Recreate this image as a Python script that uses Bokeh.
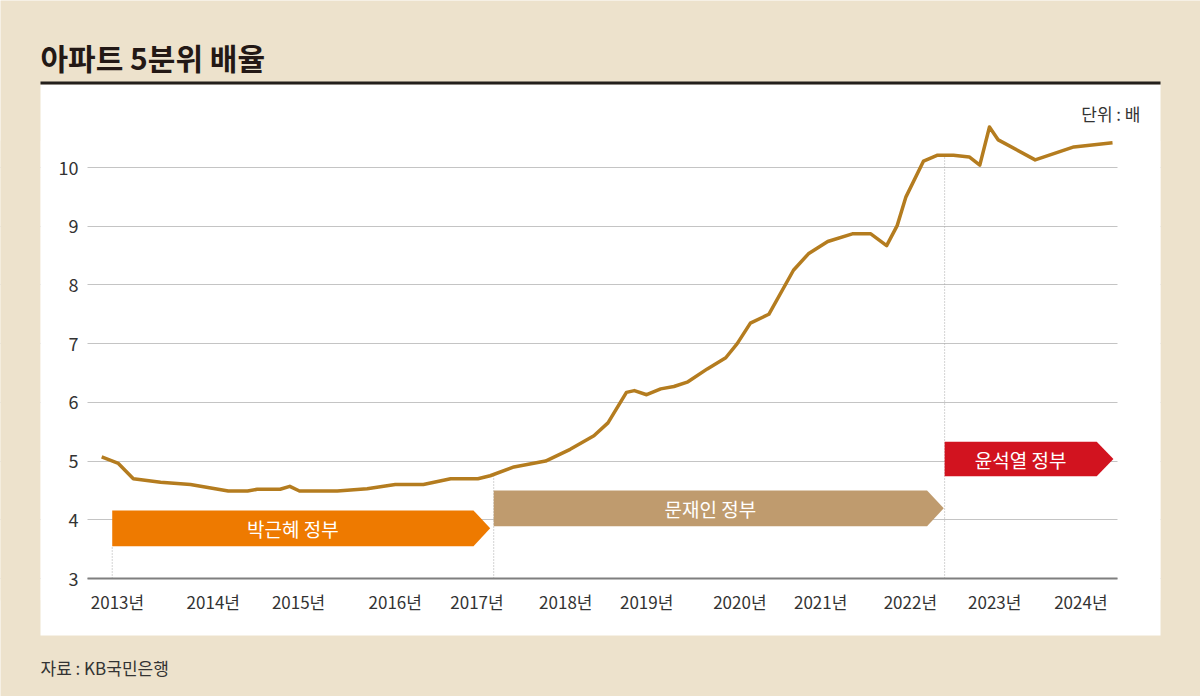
import numpy as np
from bokeh.plotting import figure
from bokeh.models import Range1d, FixedTicker, Label, BoxAnnotation
from bokeh.core.properties import value
from bokeh.embed import file_html
from bokeh.resources import INLINE

# ---------------- data ----------------
years = [2012.82, 2013.01, 2013.18, 2013.49, 2013.83, 2014.26, 2014.48, 2014.59, 2014.85, 2014.96,
         2015.07, 2015.50, 2015.84, 2016.16, 2016.48, 2016.79, 2017.10, 2017.24, 2017.51, 2017.87,
         2018.15, 2018.42, 2018.58, 2018.79, 2018.88, 2019.02, 2019.18, 2019.33, 2019.49, 2019.71,
         2019.92, 2020.05, 2020.20, 2020.41, 2020.69, 2020.86, 2021.08, 2021.36, 2021.57, 2021.75,
         2021.87, 2021.97, 2022.17, 2022.33, 2022.51, 2022.69, 2022.81, 2022.92, 2023.02, 2023.44,
         2023.88, 2024.32]
ratio = [5.07, 4.96, 4.70, 4.64, 4.60, 4.49, 4.49, 4.52, 4.52, 4.57,
         4.49, 4.49, 4.53, 4.60, 4.60, 4.70, 4.70, 4.75, 4.90, 5.00,
         5.20, 5.43, 5.65, 6.17, 6.20, 6.13, 6.23, 6.27, 6.35, 6.57,
         6.76, 7.00, 7.35, 7.50, 8.25, 8.53, 8.74, 8.87, 8.87, 8.67,
         9.01, 9.50, 10.11, 10.21, 10.21, 10.18, 10.04, 10.69, 10.47, 10.13,
         10.35, 10.42]

tick_years = [2013.00, 2014.09, 2015.06, 2016.16, 2017.09, 2018.10,
              2019.02, 2020.08, 2021.00, 2022.02, 2022.98, 2023.96]
tick_labels = ["2013년", "2014년", "2015년", "2016년", "2017년", "2018년",
               "2019년", "2020년", "2021년", "2022년", "2023년", "2024년"]
y_ticks = [3, 4, 5, 6, 7, 8, 9, 10]

era_names = ["박근혜 정부", "문재인 정부", "윤석열 정부"]
era_start = [2012.94, 2017.28, 2022.41]
era_end = [2017.24, 2022.40, 2024.33]

# ---------------- styling / layout ----------------
FONT = "Noto Sans CJK KR"
BEIGE = "#EDE2CC"
LINE_COLOR = "#B47C1F"
era_colors = ["#EE7A00", "#BF9B6E", "#D2131F"]
era_low = [3.55, 3.89, 4.74]
era_high = [4.16, 4.50, 5.33]
TIP = 0.19


# picture pixel -> data coordinate helpers (used for layout / annotations only)
def X(px):
    return 2013 + (px - 117) / 87.9


def Y(py):
    return 3 + (578 - py) / 58.714


p = figure(width=1200, height=696, output_backend="svg", toolbar_location=None, title=None,
           x_range=Range1d(X(0), X(1200)), y_range=Range1d(Y(696), Y(0)),
           min_border_left=0, min_border_right=0, min_border_top=0, min_border_bottom=0,
           background_fill_color=BEIGE, border_fill_color=BEIGE, outline_line_color=None)

# white panel and black rule (behind grid)
p.add_layout(BoxAnnotation(left=X(40), right=X(1160), top=Y(84), bottom=Y(635),
                           fill_color="white", fill_alpha=1.0, line_color=None, level="image"))
p.add_layout(BoxAnnotation(left=X(40), right=X(1160), top=Y(81), bottom=Y(84),
                           fill_color="#231F1C", fill_alpha=1.0, line_color=None, level="image"))

# axes drawn at fixed locations inside the canvas
p.xaxis.fixed_location = 3
p.xaxis.bounds = (X(87), X(1117))
p.xaxis.ticker = FixedTicker(ticks=tick_years)
p.xaxis.major_label_overrides = dict(zip(tick_years, tick_labels))
p.xaxis.axis_line_color = "#7F7F7F"
p.xaxis.axis_line_width = 2
p.xaxis.major_tick_line_color = None
p.xaxis.minor_tick_line_color = None
p.xaxis.major_label_standoff = 4
p.yaxis.fixed_location = X(87)
p.yaxis.bounds = (3, 10)
p.yaxis.ticker = FixedTicker(ticks=y_ticks)
p.yaxis.axis_line_color = None
p.yaxis.major_tick_line_color = None
p.yaxis.minor_tick_line_color = None
p.yaxis.major_label_standoff = 3
for ax in (p.xaxis, p.yaxis):
    ax.major_label_text_font = FONT
    ax.major_label_text_color = "#333333"
p.xaxis.major_label_text_font_size = "17px"
p.yaxis.major_label_text_font_size = "18px"
p.xgrid.grid_line_color = None
p.ygrid.grid_line_color = "#C4C4C4"
p.ygrid.grid_line_width = 1

# trim grid lines to the plotting area (covers drawn above grid, below axes)
for l, r, col in [(0, 40, BEIGE), (1160, 1200, BEIGE), (40, 87, "white"), (1117, 1160, "white")]:
    p.add_layout(BoxAnnotation(left=X(l), right=X(r), top=Y(140), bottom=Y(600),
                               fill_color=col, fill_alpha=1.0, line_color=None, level="glyph"))

# dotted era boundaries
tops = [era_low[0]] + [float(np.interp(s, years, ratio)) for s in era_start[1:]]
p.segment(x0=era_start, y0=[3] * 3, x1=era_start, y1=tops,
          line_color="#A8A8A8", line_width=1, line_dash="1 2")

# era arrows
xs, ys, cx, cy = [], [], [], []
for s, e, lo, hi in zip(era_start, era_end, era_low, era_high):
    sh = e - TIP
    xs.append([s, s, sh, e, sh])
    ys.append([lo, hi, hi, (lo + hi) / 2, lo])
    cx.append((s + sh) / 2)
    cy.append((lo + hi) / 2)
p.patches(xs, ys, fill_color=era_colors, line_color=None)
p.text(x=cx, y=cy, text=era_names, text_color="white", text_font=value(FONT),
       text_font_size="19px", text_align="center", text_baseline="middle")

# main line
p.line(years, ratio, line_color=LINE_COLOR, line_width=3.5, line_join="round")

# texts
p.add_layout(Label(x=X(40), y=Y(56), text="아파트 5분위 배율", text_font=FONT,
                   text_font_size="30px", text_font_style="bold", text_color="#231815",
                   text_baseline="middle", text_align="left"))
p.add_layout(Label(x=X(1140), y=Y(113), text="단위 : 배", text_font=FONT,
                   text_font_size="17px", text_color="#333333",
                   text_baseline="middle", text_align="right"))
p.add_layout(Label(x=X(40), y=Y(667), text="자료 : KB국민은행", text_font=FONT,
                   text_font_size="17px", text_color="#333333",
                   text_baseline="middle", text_align="left"))

open("out.html", "w").write(file_html(p, INLINE, title="아파트 5분위 배율"))
